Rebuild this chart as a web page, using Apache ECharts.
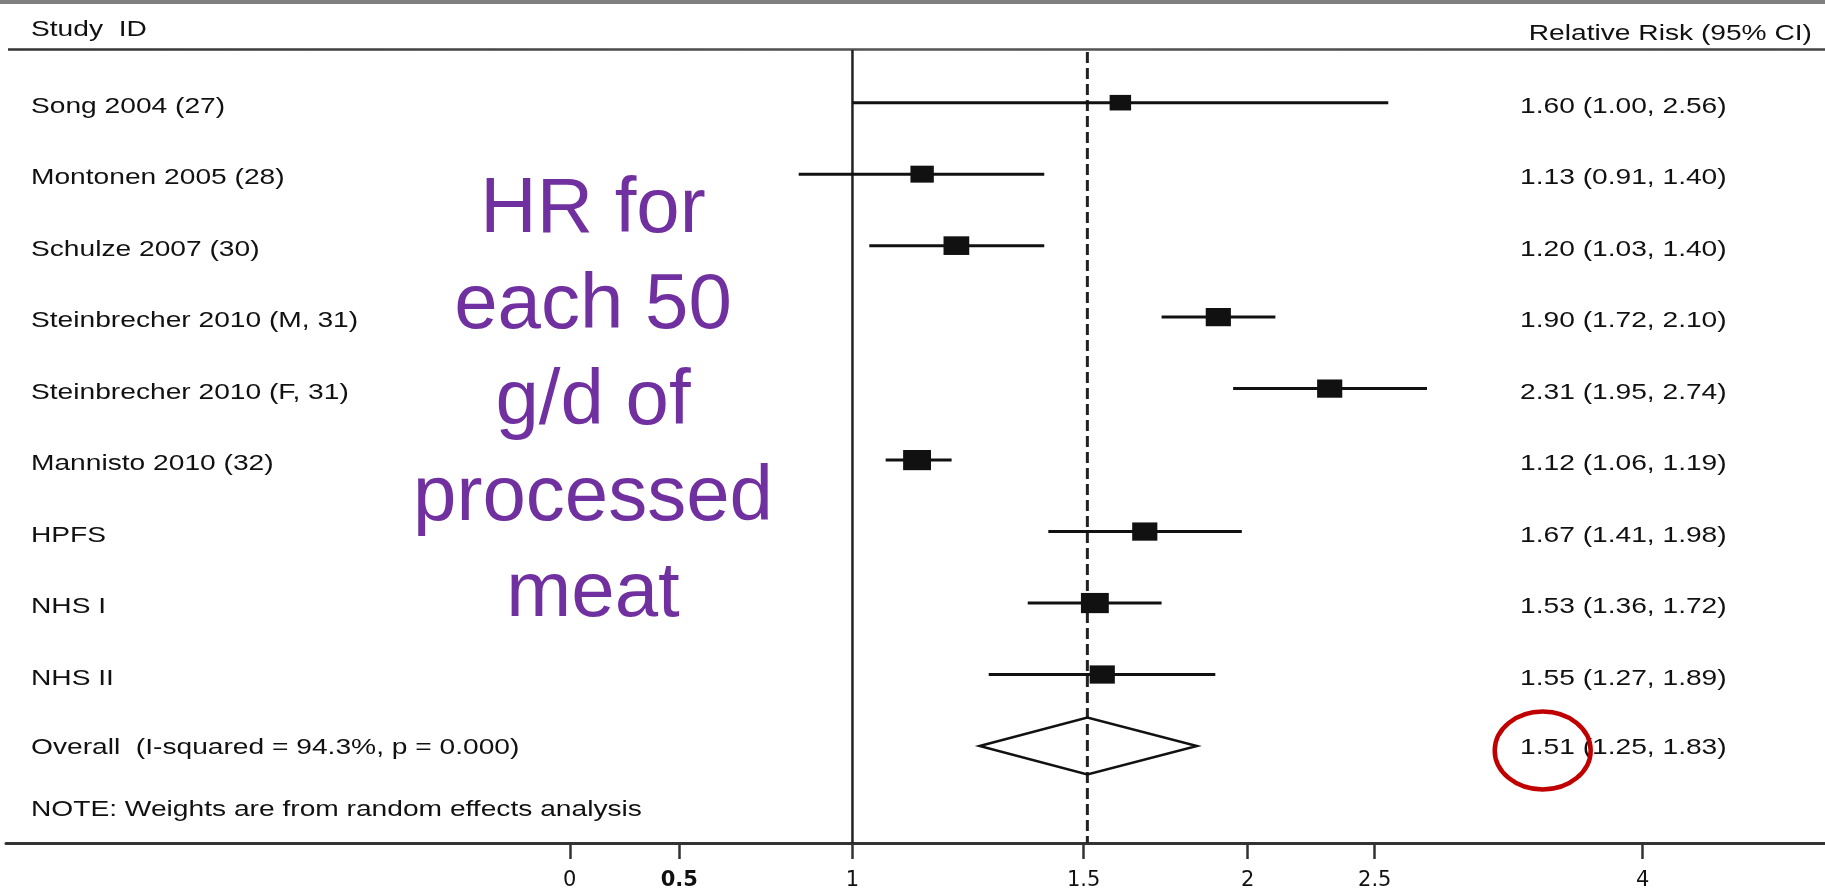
<!DOCTYPE html>
<html>
<head>
<meta charset="utf-8">
<script src="https://cdn.jsdelivr.net/npm/echarts@6/dist/echarts.min.js"></script>
<style>
  html, body { margin: 0; padding: 0; background: #fff; }
  #chart { width: 1825px; height: 894px; }
</style>
</head>
<body>
<div id="chart"></div>
<script>
// Study-level estimates (relative risk and 95% CI) per 50 g/d of processed meat
const studies = [
  "Song 2004 (27)",
  "Montonen 2005 (28)",
  "Schulze 2007 (30)",
  "Steinbrecher 2010 (M, 31)",
  "Steinbrecher 2010 (F, 31)",
  "Mannisto 2010 (32)",
  "HPFS",
  "NHS I",
  "NHS II"
];
const relRisk = [1.60, 1.13, 1.20, 1.90, 2.31, 1.12, 1.67, 1.53, 1.55];
const ciLower = [1.00, 0.91, 1.03, 1.72, 1.95, 1.06, 1.41, 1.36, 1.27];
const ciUpper = [2.56, 1.40, 1.40, 2.10, 2.74, 1.19, 1.98, 1.72, 1.89];
// random-effects weights (%), used for the box sizes
const weights = [8.0, 9.5, 11.5, 11.0, 11.0, 13.5, 11.0, 13.5, 11.0];

// Pooled estimate
const overallRR = 1.51;
const overallLower = 1.25;
const overallUpper = 1.83;
const iSquared = "94.3%";
const pValue = "0.000";

// Axis ticks
const tickValues = [0.609, 0.738, 1, 1.5, 2, 2.5, 4];
const tickLabels = ["0", "0.5", "1", "1.5", "2", "2.5", "4"];

// Null line and pooled-estimate line
const refValues = [1, overallRR];

const TEXT_FONT = '22px "Liberation Sans", Arial, sans-serif';
const TEXT_STRETCH = 1.28;
const LEFT_X = 31;
const RIGHT_X = 1520;
const TEXT_DY = 4;

function fmtCI(rr, lo, hi) {
  return rr.toFixed(2) + " (" + lo.toFixed(2) + ", " + hi.toFixed(2) + ")";
}

function rowText(x, y, text, align) {
  return {
    type: 'text', x: x, y: y, scaleX: TEXT_STRETCH,
    style: { text: text, font: TEXT_FONT, fill: '#111', align: align || 'left', verticalAlign: 'middle' }
  };
}

const studyRows = studies.map((s, i) => [i, relRisk[i], ciLower[i], ciUpper[i], weights[i]]);
const overallRow = [[studies.length, overallRR, overallLower, overallUpper]];

const chart = echarts.init(document.getElementById('chart'));

chart.setOption({
  animation: false,
  backgroundColor: '#fff',
  grid: { left: 6, right: 0, top: 50, bottom: 51, containLabel: false, outerBoundsMode: 'none' },
  xAxis: {
    type: 'log',
    min: 0.2265,
    max: 5.508,
    axisLine: { show: true, onZero: false, lineStyle: { color: '#333', width: 3 } },
    axisTick: {
      show: true, customValues: tickValues, length: 16,
      lineStyle: { color: '#333', width: 2.5 }
    },
    axisLabel: {
      customValues: tickValues,
      margin: 27,
      color: '#111',
      fontSize: 21,
      fontFamily: '"DejaVu Sans", sans-serif',
      formatter: function (v) {
        let best = 0;
        for (let k = 1; k < tickValues.length; k++) {
          if (Math.abs(tickValues[k] - v) < Math.abs(tickValues[best] - v)) best = k;
        }
        return best === 1 ? '{b|' + tickLabels[best] + '}' : tickLabels[best];
      },
      rich: { b: { fontWeight: 'bold', fontSize: 21, color: '#111', fontFamily: '"DejaVu Sans", sans-serif' } }
    },
    splitLine: { show: false }
  },
  yAxis: {
    type: 'value',
    inverse: true,
    min: -0.737,
    max: 10.357,
    show: false
  },
  series: [
    {
      // vertical reference lines spanning the plot
      type: 'custom',
      data: refValues.map(v => [v]),
      encode: { x: 0 },
      clip: false,
      z: 1,
      renderItem: function (params, api) {
        const cs = params.coordSys;
        const x = api.coord([api.value(0), 0])[0];
        const dashed = params.dataIndex === 1;
        return {
          type: 'line',
          shape: { x1: x, y1: cs.y + (dashed ? 2 : 0), x2: x, y2: cs.y + cs.height },
          style: dashed
            ? { stroke: '#222', lineWidth: 3, lineDash: [11, 5] }
            : { stroke: '#222', lineWidth: 2.5 }
        };
      }
    },
    {
      // individual studies: CI whisker, weighted box, labels
      type: 'custom',
      data: studyRows,
      encode: { x: [1, 2, 3], y: 0 },
      clip: false,
      z: 2,
      renderItem: function (params, api) {
        const i = api.value(0), rr = api.value(1), lo = api.value(2), hi = api.value(3), w = api.value(4);
        const c = api.coord([rr, i]);
        const l = api.coord([lo, i]);
        const h = api.coord([hi, i]);
        const bh = 5.5 * Math.sqrt(w);
        const bw = bh * 1.38;
        return {
          type: 'group',
          children: [
            { type: 'line', shape: { x1: l[0], y1: c[1], x2: h[0], y2: c[1] }, style: { stroke: '#111', lineWidth: 3 } },
            { type: 'rect', shape: { x: c[0] - bw / 2, y: c[1] - bh / 2, width: bw, height: bh }, style: { fill: '#111' } },
            rowText(LEFT_X, c[1] + TEXT_DY, studies[i]),
            rowText(RIGHT_X, c[1] + TEXT_DY, fmtCI(rr, lo, hi))
          ]
        };
      }
    },
    {
      // pooled estimate diamond
      type: 'custom',
      data: overallRow,
      encode: { x: [1, 2, 3], y: 0 },
      clip: false,
      z: 3,
      renderItem: function (params, api) {
        const i = api.value(0), rr = api.value(1), lo = api.value(2), hi = api.value(3);
        const c = api.coord([rr, i]);
        const l = api.coord([lo, i]);
        const h = api.coord([hi, i]);
        const half = 28.5;
        return {
          type: 'group',
          children: [
            {
              type: 'polygon',
              shape: { points: [[l[0], c[1]], [c[0], c[1] - half], [h[0], c[1]], [c[0], c[1] + half]] },
              style: { fill: 'none', stroke: '#111', lineWidth: 2.5 }
            },
            rowText(LEFT_X, c[1] + 2, 'Overall  (I-squared = ' + iSquared + ', p = ' + pValue + ')'),
            rowText(RIGHT_X, c[1] + 2, fmtCI(rr, lo, hi))
          ]
        };
      }
    }
  ],
  graphic: [
    { type: 'rect', left: 0, top: 0, shape: { width: 1825, height: 4 }, style: { fill: '#7f7f7f' } },
    {
      type: 'line', shape: { x1: 8, y1: 49.5, x2: 1825, y2: 49.5 },
      style: {
        lineWidth: 2.5,
        stroke: new echarts.graphic.LinearGradient(0, 0, 1, 0, [
          { offset: 0, color: '#333' }, { offset: 0.5, color: '#555' }, { offset: 1, color: '#444' }
        ])
      }
    },
    {
      type: 'text', x: LEFT_X, y: 30, scaleX: TEXT_STRETCH,
      style: { text: 'Study  ID', font: TEXT_FONT, fill: '#111', align: 'left', verticalAlign: 'middle' }
    },
    {
      type: 'text', x: 1812, y: 34, scaleX: TEXT_STRETCH,
      style: { text: 'Relative Risk (95% CI)', font: TEXT_FONT, fill: '#111', align: 'right', verticalAlign: 'middle' }
    },
    {
      type: 'text', x: LEFT_X, y: 810, scaleX: TEXT_STRETCH,
      style: { text: 'NOTE: Weights are from random effects analysis', font: TEXT_FONT, fill: '#111', align: 'left', verticalAlign: 'middle' }
    },
    {
      type: 'text', x: 593, y: 402, z: 10,
      style: {
        text: 'HR for\neach 50\ng/d of\nprocessed\nmeat',
        font: '78px "Liberation Sans", Arial, sans-serif',
        lineHeight: 96,
        fill: '#7030A0',
        align: 'center',
        verticalAlign: 'middle'
      }
    },
    {
      type: 'ellipse', z: 10,
      shape: { cx: 1542.7, cy: 750.5, rx: 48, ry: 39 },
      style: { fill: 'none', stroke: '#C00000', lineWidth: 4.5 }
    }
  ]
});
</script>
</body>
</html>
